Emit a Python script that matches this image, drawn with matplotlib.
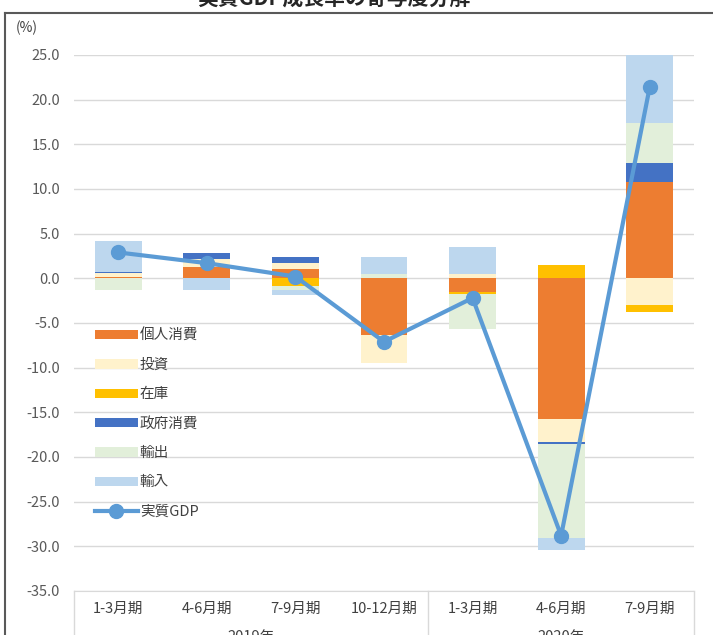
import numpy as np
import matplotlib.pyplot as plt
from matplotlib.patches import Patch
from matplotlib.lines import Line2D

plt.rcParams['font.family'] = ['Noto Sans CJK JP', 'DejaVu Sans']

# 寄与度（%ポイント）
quarters = ['1-3月期', '4-6月期', '7-9月期', '10-12月期', '1-3月期', '4-6月期', '7-9月期']
years = ['2019年', '2020年']

series_names = ['個人消費', '投資', '在庫', '政府消費', '輸出', '輸入']
consumption = [0.1, 1.3, 1.0, -6.35, -1.5, -15.8, 10.8]
investment = [0.45, 0.85, 0.7, -3.1, 0.48, -2.5, -3.0]
inventory = [0.0, 0.0, -0.85, 0.0, -0.2, 1.5, -0.75]
government = [0.12, 0.7, 0.67, 0.0, 0.0, -0.2, 2.1]
exports = [-1.3, 0.0, -0.45, 0.5, -4.0, -10.6, 4.5]
imports = [3.47, -1.25, -0.6, 1.9, 3.0, -1.3, 7.7]
real_gdp = [2.9, 1.7, 0.2, -7.1, -2.2, -28.8, 21.4]

colors = ['#ED7D31', '#FFF2CC', '#FFC000', '#4472C4', '#E2EFDA', '#BDD7EE']
line_color = '#5B9BD5'

fig = plt.figure(figsize=(7.13, 6.35), dpi=100)
ax = fig.add_axes([74 / 713, 44 / 635, 620 / 713, 536 / 635])

x = np.arange(len(quarters))
pos_base = np.zeros(len(x))
neg_base = np.zeros(len(x))
for vals, c in zip([consumption, investment, inventory, government, exports, imports], colors):
    v = np.array(vals)
    base = np.where(v >= 0, pos_base, neg_base)
    ax.bar(x, v, bottom=base, width=0.53, color=c, zorder=2)
    pos_base += np.where(v >= 0, v, 0)
    neg_base += np.where(v < 0, v, 0)

ax.plot(x, real_gdp, color=line_color, lw=3, marker='o', ms=10, zorder=3)

ax.set_xlim(-0.5, 6.5)
ax.set_ylim(-35, 25)
ax.set_yticks(np.arange(-35, 26, 5))
ax.set_yticklabels(['%.1f' % t for t in np.arange(-35, 26, 5)])
ax.yaxis.grid(True, color='#D9D9D9', lw=1, zorder=0)
ax.tick_params(axis='y', length=0, pad=10, labelsize=10.5, labelcolor='#595959')
ax.tick_params(axis='x', length=0, pad=8, labelsize=10.5, labelcolor='#404040')
ax.set_xticks(x)
ax.set_xticklabels(quarters)
for s in ['top', 'right', 'left']:
    ax.spines[s].set_visible(False)
ax.spines['bottom'].set_color('#D9D9D9')

# 年の区切り線と年ラベル
trans = ax.get_xaxis_transform()
for xs in [-0.5, 3.5, 6.5]:
    ax.plot([xs, xs], [0, -0.1], transform=trans, color='#D9D9D9', lw=1, clip_on=False)
ax.text(1.5, -0.085, years[0], transform=trans, ha='center', va='center', fontsize=10.5, color='#404040')
ax.text(5.0, -0.085, years[1], transform=trans, ha='center', va='center', fontsize=10.5, color='#404040')

handles = [Patch(facecolor=c, edgecolor='none') for c in colors]
handles.append(Line2D([0], [0], color=line_color, lw=3, marker='o', ms=10))
ax.legend(handles, series_names + ['実質GDP'], loc='upper left', bbox_to_anchor=(0.025, 0.50),
          frameon=False, fontsize=10.5, labelcolor='#404040', handlelength=2.9, handleheight=0.6,
          handletextpad=0.15, labelspacing=1.05, borderaxespad=0)

fig.text(27 / 713, 1 - 28 / 635, '(%)', ha='center', va='center', fontsize=10, color='#404040')
fig.text(0.468, 1 + 2 / 635, '実質GDP成長率の寄与度分解', ha='center', va='center', fontsize=15,
         fontweight='bold', color='#262626')

# 外枠
fig.add_artist(Line2D([5 / 713, 5 / 713], [0, 1 - 13 / 635], transform=fig.transFigure, color='#595959', lw=1.5))
fig.add_artist(Line2D([5 / 713, 1], [1 - 13 / 635, 1 - 13 / 635], transform=fig.transFigure, color='#595959', lw=1.5))

fig.savefig('out.png', dpi=100)
